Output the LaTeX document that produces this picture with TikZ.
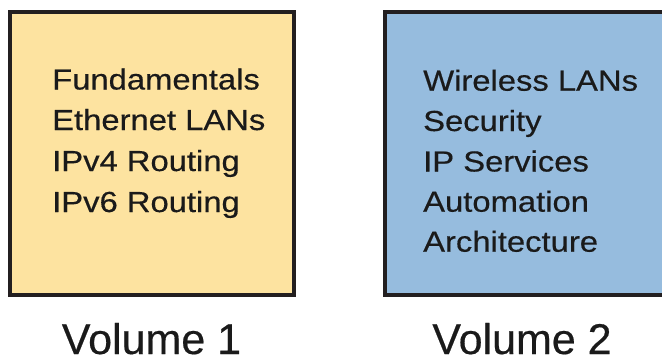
\documentclass[tikz,border=0pt]{standalone}
\usepackage{fontspec}
\setmainfont{Liberation Sans}
\newfontfamily\topicfont[FakeBold=0.4]{Liberation Sans}
\definecolor{volyellow}{HTML}{FDE3A0}
\definecolor{volblue}{HTML}{96BCDE}
\definecolor{edge}{HTML}{231F20}
\definecolor{ink}{HTML}{1A1A1A}
\tikzset{
  volbox/.style={draw=edge, line width=4pt},
  topic/.style={anchor=base west, inner sep=0pt, text=ink,
    font=\topicfont\fontsize{29}{32}\selectfont},
  voltitle/.style={anchor=base, inner sep=0pt, text=ink,
    font=\topicfont\fontsize{43}{48}\selectfont},
}
\newcommand{\wide}[1]{\scalebox{1.13}[1]{#1}}
\begin{document}
\begin{tikzpicture}[x=1pt, y=-1pt]
  \useasboundingbox (0,0) rectangle (662,362);
  \fill[white] (0,0) rectangle (662,362);
  % Volume 1 box
  \draw[volbox, fill=volyellow] (10,12) rectangle (293.7,295);
  \node[topic] (f1) at (52,89.5)  {\wide{Fundamentals}};
  \node[topic] (f2) at (52,130)   {\wide{Ethernet LANs}};
  \node[topic] (f3) at (52,171)   {\wide{IPv4 Routing}};
  \node[topic] (f4) at (52,212)   {\wide{IPv6 Routing}};
  \node[voltitle] (v1) at (151.5,354) {Volume 1};
  % Volume 2 box (runs past the right edge)
  \draw[volbox, fill=volblue] (385,12) rectangle (666,295);
  \node[topic] (s1) at (423,90.7)  {\wide{Wireless LANs}};
  \node[topic] (s2) at (423,131)   {\wide{Security}};
  \node[topic] (s3) at (423,171.5) {\wide{IP Services}};
  \node[topic] (s4) at (423,211.7) {\wide{Automation}};
  \node[topic] (s5) at (423,251.7) {\wide{Architecture}};
  \node[voltitle] (v2) at (522,354) {Volume 2};
\end{tikzpicture}
\end{document}
